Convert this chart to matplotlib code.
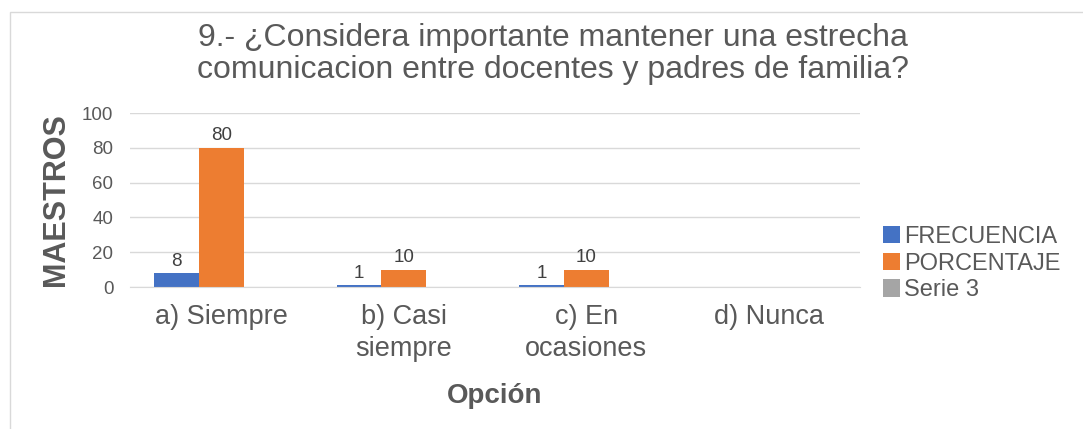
import matplotlib
matplotlib.use("Agg")
import matplotlib.pyplot as plt
import numpy as np
from matplotlib.patches import Rectangle

plt.rcParams['font.family'] = ['Liberation Sans', 'DejaVu Sans']

categories = ["a) Siempre", "b) Casi\nsiempre", "c) En\nocasiones", "d) Nunca"]
frecuencia = [8, 1, 1, None]
porcentaje = [80, 10, 10, None]
serie3 = [None, None, None, None]
series_names = ["FRECUENCIA", "PORCENTAJE", "Serie 3"]
colors = ["#4472C4", "#ED7D31", "#A5A5A5"]
text_c = "#595959"

fig = plt.figure(figsize=(10.83, 4.29), dpi=100)
fig.patches.append(Rectangle((10 / 1083, -0.1), 1.2, 1 - 12 / 429 + 0.1,
                             transform=fig.transFigure, fill=False,
                             edgecolor="#D9D9D9", linewidth=1))
ax = fig.add_axes([130 / 1083, 1 - 287 / 429, 730 / 1083, 174 / 429])

x = np.arange(len(categories))
w = 0.245
for i, (vals, name, col) in enumerate(zip([frecuencia, porcentaje, serie3], series_names, colors)):
    v = [np.nan if a is None else a for a in vals]
    ax.bar(x + (i - 1) * w, v, width=w, color=col, label=name, zorder=2)
    for xi, a in zip(x, vals):
        if a is not None:
            ax.text(xi + (i - 1) * w, a + 2, str(a), ha="center", va="bottom",
                    fontsize=13.5, color="#404040")

ax.set_xlim(-0.5, 3.5)
ax.set_ylim(0, 100)
ax.set_yticks(range(0, 101, 20))
ax.yaxis.grid(True, color="#D9D9D9", linewidth=1, zorder=0)
ax.set_axisbelow(True)
for s in ["top", "right", "left"]:
    ax.spines[s].set_visible(False)
ax.spines["bottom"].set_color("#D9D9D9")
ax.tick_params(axis="both", length=0, colors=text_c)
ax.tick_params(axis="y", labelsize=13.5, pad=12)
ax.set_xticks(x)
ax.set_xticklabels(categories, fontsize=19.5, color=text_c, linespacing=1.32)
ax.tick_params(axis="x", pad=12)

ax.set_ylabel("MAESTROS", fontsize=22, fontweight="bold", color=text_c, labelpad=8)
ax.set_xlabel("Opción", fontsize=20, fontweight="bold", color=text_c, labelpad=15)

fig.text(553 / 1083, 1 - 54 / 429,
         "9.- ¿Considera importante mantener una estrecha\ncomunicacion entre docentes y padres de familia?",
         ha="center", va="center", fontsize=23, color=text_c, linespacing=1.12)

leg = ax.legend(loc="center left", bbox_to_anchor=(1.018, 0.135), frameon=False,
                fontsize=17, handlelength=0.75, handleheight=0.75, handletextpad=0.15,
                labelspacing=0.2, borderaxespad=0)
for t in leg.get_texts():
    t.set_color(text_c)

fig.savefig("out.png", dpi=100)
